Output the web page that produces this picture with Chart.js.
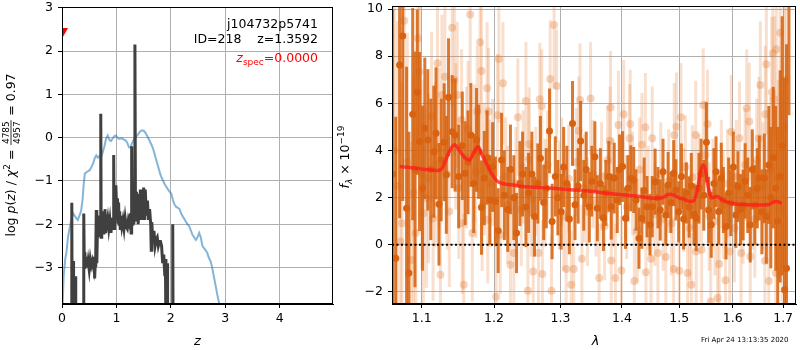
<!DOCTYPE html>
<html>
<head>
<meta charset="UTF-8">
<title>j104732p5741 redshift fit</title>
<script src="https://cdn.jsdelivr.net/npm/chart.js@4"></script>
<style>
  body { margin: 0; background: #fff; }
  #wrap { position: relative; width: 800px; height: 350px; }
  canvas { position: absolute; left: 0; top: 0; }
</style>
</head>
<body>
<div id="wrap">
  <canvas id="pz" width="800" height="350"></canvas>
  <canvas id="spec" width="800" height="350"></canvas>
</div>
<script>
// ---- left panel: log p(z) (dark) and the smooth curve (blue) ----
const pzZ = [
  0.00, 0.17, 0.18, 0.19, 0.205, 0.21, 0.215, 0.245, 0.25, 0.255,
  0.395, 0.40, 0.41, 0.42, 0.43, 0.44, 0.45, 0.46, 0.47, 0.48,
  0.50, 0.52, 0.54, 0.56, 0.58, 0.59, 0.60, 0.61, 0.62, 0.63,
  0.64, 0.65, 0.66, 0.67, 0.68, 0.69, 0.70, 0.71, 0.715, 0.72,
  0.73, 0.74, 0.75, 0.76, 0.77, 0.78, 0.79, 0.80, 0.82, 0.84,
  0.86, 0.88, 0.90, 0.92, 0.94, 0.95, 0.96, 0.97, 0.98, 0.99,
  1.00, 1.01, 1.02, 1.03, 1.04, 1.05, 1.06, 1.07, 1.08, 1.10,
  1.12, 1.14, 1.16, 1.18, 1.20, 1.22, 1.24, 1.26, 1.27, 1.28,
  1.29, 1.30, 1.32, 1.33, 1.34, 1.35, 1.36, 1.37, 1.38, 1.39,
  1.40, 1.42, 1.43, 1.44, 1.45, 1.46, 1.47, 1.48, 1.49, 1.50,
  1.51, 1.52, 1.53, 1.55, 1.57, 1.59, 1.61, 1.63, 1.64, 1.65,
  1.67, 1.69, 1.71, 1.73, 1.75, 1.77, 1.79, 1.81, 1.83, 1.85,
  1.87, 1.89, 1.90, 1.91, 1.93, 1.94, 2.025, 2.035, 2.045, 4.98
];
const pzLog = [
  -6, -6, -1.5, -6, -6, -2.85, -6, -6, -3.2, -6,
  -6, -1.75, -3.0, -2.65, -2.9, -2.75, -3.0, -2.8, -2.95, -2.85,
  -3.05, -2.8, -2.95, -2.85, -3.0, -2.75, -3.25, -2.95, -2.7, -1.67,
  -2.9, -2.2, -2.0, -2.25, -1.8, -2.3, -2.05, -1.9, 0.55, -2.3,
  -1.75, -2.15, -1.7, -2.2, -1.9, -2.05, -1.65, -2.2, -2.0, -1.85,
  -2.1, -1.9, -2.2, -1.85, -2.05, -0.4, -2.1, -1.2, -1.6, -1.1,
  -1.5, -1.9, -1.4, -1.95, -1.5, -2.0, -1.7, -2.1, -1.8, -2.05,
  -1.9, -2.1, -1.85, -2.05, -2.1, -1.9, -2.0, -1.75, -2.2, -0.2,
  -2.0, -1.8, -2.0, -1.5, 2.15, -1.6, -1.9, -1.25, -1.9, -1.4,
  -2.0, -1.3, -1.9, -1.2, -1.7, -1.3, -1.9, -1.2, -1.6, -1.15,
  -1.5, -1.9, -1.2, -1.8, -1.45, -1.9, -1.65, -2.0, -2.6, -1.95,
  -2.4, -2.15, -2.5, -2.35, -2.3, -2.5, -2.4, -2.4, -2.5, -2.9,
  -2.7, -3.2, -2.8, -4.5, -2.9, -6, -6, -2.0, -6, -6
];
const priorZ = [
  0.00, 0.03, 0.06, 0.08, 0.11, 0.14, 0.17, 0.20, 0.23, 0.26,
  0.29, 0.32, 0.35, 0.38, 0.40, 0.42, 0.45, 0.48, 0.51, 0.54,
  0.57, 0.60, 0.63, 0.66, 0.69, 0.72, 0.75, 0.78, 0.81, 0.84,
  0.87, 0.90, 0.93, 0.96, 0.99, 1.02, 1.05, 1.08, 1.11, 1.14,
  1.17, 1.20, 1.23, 1.26, 1.29, 1.32, 1.35, 1.38, 1.41, 1.44,
  1.47, 1.50, 1.53, 1.56, 1.59, 1.62, 1.65, 1.68, 1.71, 1.74,
  1.77, 1.80, 1.83, 1.86, 1.89, 1.92, 1.95, 1.98, 2.01, 2.04,
  2.07, 2.10, 2.13, 2.16, 2.19, 2.22, 2.25, 2.28, 2.31, 2.34,
  2.37, 2.40, 2.43, 2.46, 2.49, 2.52, 2.55, 2.58, 2.61, 2.64,
  2.67, 2.70, 2.73, 2.76, 2.79, 2.82, 2.85, 2.88, 2.91
];
const priorLog = [
  -4.3, -3.2, -2.8, -2.66, -2.3, -2.09, -1.9, -1.74, -1.8, -1.85,
  -1.9, -1.8, -1.7, -1.4, -1.05, -0.83, -0.8, -0.77, -0.75, -0.68,
  -0.6, -0.48, -0.41, -0.46, -0.42, -0.44, -0.33, -0.2, -0.02, 0.05,
  -0.05, -0.08, -0.02, 0.03, 0.05, 0.0, -0.03, -0.02, -0.02, -0.05,
  -0.06, -0.12, -0.22, -0.22, -0.12, -0.04, 0.0, 0.05, 0.1, 0.15,
  0.17, 0.16, 0.12, 0.05, -0.02, -0.1, -0.18, -0.28, -0.42, -0.55,
  -0.68, -0.82, -0.92, -1.0, -1.08, -1.14, -1.2, -1.25, -1.3, -1.45,
  -1.55, -1.6, -1.62, -1.65, -1.75, -1.82, -1.88, -1.95, -2.0, -2.05,
  -2.15, -2.25, -2.3, -2.36, -2.3, -2.2, -2.3, -2.5, -2.55, -2.6,
  -2.66, -2.78, -2.85, -3.0, -3.2, -3.4, -3.6, -3.78, -3.95
];
const zSpec = [0.0];
const zSpecMark = [2.45];
const zTicks = [0, 1, 2, 3, 4];
const pzTicks = [-3, -2, -1, 0, 1, 2, 3];

// ---- right panel: spectrum ----
const darkWave = [
  1.062, 1.066, 1.071, 1.075, 1.080, 1.083, 1.088, 1.091, 1.094, 1.097,
  1.101, 1.104, 1.108, 1.112, 1.116, 1.119, 1.123, 1.126, 1.130, 1.133,
  1.136, 1.141, 1.145, 1.150, 1.155, 1.159, 1.163, 1.167, 1.171, 1.175,
  1.178, 1.182, 1.186, 1.190, 1.194, 1.198,
  1.202, 1.206, 1.211, 1.215, 1.220, 1.224, 1.229, 1.233, 1.238, 1.242,
  1.247, 1.251, 1.256, 1.260, 1.265, 1.269, 1.274, 1.278, 1.283, 1.287,
  1.292, 1.296, 1.301, 1.305, 1.310, 1.314, 1.319, 1.323, 1.328, 1.332,
  1.337, 1.341, 1.346, 1.350,
  1.355, 1.359, 1.364, 1.369, 1.373, 1.378, 1.382, 1.387, 1.392, 1.396,
  1.401, 1.406, 1.410, 1.415, 1.420, 1.424, 1.429, 1.434, 1.438, 1.443,
  1.448, 1.452, 1.457, 1.462, 1.466, 1.471, 1.476, 1.480, 1.485, 1.490,
  1.494, 1.499, 1.504, 1.508, 1.513, 1.518, 1.522, 1.527,
  1.531, 1.536, 1.540, 1.545, 1.550, 1.554, 1.559, 1.564, 1.568, 1.573,
  1.578, 1.582, 1.587, 1.592, 1.596, 1.601, 1.606, 1.610, 1.615, 1.620,
  1.624, 1.629, 1.634, 1.638, 1.643, 1.648, 1.652, 1.657, 1.662, 1.666,
  1.671, 1.675, 1.680, 1.685, 1.689, 1.694, 1.698, 1.703, 1.707, 1.712
];
const darkFlux = [
  3.0, -0.57, 7.63, 8.86, 1.55, -1.2, 5.54, 3.2, 6.47, 4.38,
  2.4, 4.94, 4.45, 3.2, 3.95, 4.73, 1.72, 3.6, 4.35, 2.97,
  6.26, 4.8, 4.66, 2.9, 4.2, 3.04, 3.5, 4.66, 2.6, 4.45,
  3.95, 1.58, 2.83, 3.7, 1.9, 3.3,
  1.84, 0.6, 3.6, 2.1, 1.5, 3.2, 2.0, 0.5, 2.6, 3.0,
  1.6, 2.2, 3.0, 1.2, 2.6, 3.67, 1.8, 2.4, 4.83, 0.99,
  2.9, 2.0, 1.4, 3.3, 2.6, 1.1, 5.15, 1.7, 2.5, 4.4,
  2.1, 3.2, 1.6, 2.7,
  3.74, 1.55, 2.6, 1.14, 2.2, 2.9, 1.62, 2.83, 1.9, 3.18,
  3.32, 1.13, 2.4, 2.82, 2.75, 1.9, 0.28, 1.13, 2.3, 1.62,
  0.85, 1.62, 2.68, 2.0, 1.48, 3.1, 1.27, 2.54, 1.8, 3.04,
  2.33, 1.4, 2.9, 1.1, 2.2, 1.6, 2.5, 1.3,
  1.13, 2.4, 3.0, 2.1, 4.35, 1.48, 0.85, 2.6, 3.1, 1.41,
  2.83, 1.9, 0.78, 2.2, 1.77, 3.3, 1.27, 2.47, 1.5, 1.69,
  2.71, 2.1, 0.85, 3.2, 1.69, 2.4, 2.83, 1.4, 2.82, 1.2,
  3.39, 2.0, 3.7, 2.4, 1.0, 2.9, 4.2, -1.91, -0.99, 12
];
const darkErr = [
  7, 6, 6.5, 7, 6, 6, 4.5, 5, 3.5, 3.8,
  3.5, 3, 3, 3, 2.8, 2.8, 2.6, 2.6, 2.5, 2.5,
  2.5, 2.4, 2.4, 2.2, 2.3, 2.2, 2.2, 2.2, 2.1, 2.2,
  2.0, 2.0, 2.0, 2.0, 1.9, 1.9,
  1.9, 1.8, 2.0, 1.9, 1.8, 1.9, 1.8, 1.7, 1.8, 1.8,
  1.7, 1.7, 1.8, 1.7, 1.7, 1.8, 1.6, 1.7, 1.8, 1.6,
  1.7, 1.6, 1.6, 1.7, 1.6, 1.5, 1.8, 1.5, 1.6, 1.7,
  1.5, 1.6, 1.5, 1.5,
  1.5, 1.4, 1.5, 1.4, 1.4, 1.5, 1.4, 1.5, 1.4, 1.5,
  1.5, 1.3, 1.4, 1.4, 1.4, 1.3, 1.3, 1.3, 1.4, 1.3,
  1.3, 1.3, 1.4, 1.3, 1.3, 1.4, 1.3, 1.4, 1.3, 1.4,
  1.3, 1.3, 1.4, 1.3, 1.3, 1.3, 1.4, 1.3,
  1.4, 1.5, 1.5, 1.5, 1.7, 1.4, 1.4, 1.5, 1.5, 1.4,
  1.5, 1.4, 1.4, 1.5, 1.4, 1.5, 1.4, 1.5, 1.5, 1.5,
  1.6, 1.6, 1.6, 1.7, 1.7, 1.7, 1.8, 1.8, 1.9, 2.0,
  2.5, 3.0, 3.0, 3.5, 4.0, 4.5, 5.5, 9.0, 9.5, 6.5
];
const lightWave = [
  1.064, 1.068, 1.072, 1.074, 1.077, 1.081, 1.086, 1.089, 1.092, 1.095,
  1.097, 1.100, 1.102, 1.106, 1.109, 1.113, 1.115, 1.118, 1.121, 1.123,
  1.125, 1.127, 1.131, 1.134, 1.137, 1.141, 1.144, 1.146, 1.148, 1.150,
  1.154, 1.155, 1.157, 1.161, 1.163, 1.166, 1.169, 1.172, 1.174, 1.176,
  1.180, 1.182, 1.183, 1.186, 1.190, 1.191, 1.192, 1.194, 1.198, 1.203,
  1.205, 1.207, 1.209, 1.213, 1.217, 1.220, 1.224, 1.229, 1.232, 1.235,
  1.240, 1.243, 1.247, 1.250, 1.251, 1.252, 1.255, 1.258, 1.262, 1.266,
  1.268, 1.271, 1.272, 1.276, 1.280, 1.284, 1.286, 1.290, 1.294, 1.298,
  1.302, 1.305, 1.309, 1.313, 1.317, 1.321, 1.325, 1.329, 1.331, 1.334,
  1.338, 1.343, 1.348, 1.352, 1.357, 1.362, 1.366, 1.371, 1.376, 1.380,
  1.381, 1.382, 1.385, 1.389, 1.394, 1.399, 1.403, 1.408, 1.413, 1.414,
  1.418, 1.421, 1.426, 1.430, 1.434, 1.440, 1.441, 1.445, 1.450, 1.452,
  1.457, 1.462, 1.467, 1.471, 1.476, 1.481, 1.486, 1.490, 1.491, 1.495,
  1.500, 1.503, 1.508, 1.511, 1.515, 1.519, 1.522, 1.524, 1.530, 1.531,
  1.536, 1.541, 1.544, 1.548, 1.552, 1.555, 1.558, 1.562, 1.566, 1.571,
  1.574, 1.578, 1.582, 1.586, 1.590, 1.594, 1.597, 1.603, 1.607, 1.613,
  1.616, 1.620, 1.624, 1.627, 1.632, 1.634, 1.638, 1.643, 1.647, 1.651,
  1.654, 1.659, 1.663, 1.664, 1.666, 1.671, 1.674, 1.677, 1.679, 1.682,
  1.685, 1.686, 1.690, 1.694, 1.698, 1.702, 1.706
];
const lightFlux = [
  4.0, 2.5, 0.14, 0.92, 9.5, 3.5, -0.64, 2.2, 0.5, 8.76,
  7.34, 3.0, 1.34, 1.98, 2.82, 5.44, 1.13, 3.4, 7.7, 4.1,
  -1.27, 6.36, 7.13, 3.0, 1.41, 9.21, 6.99, 4.6, 6.36, 2.4,
  5.3, 0.92, -1.69, 3.7, 4.9, 9.77, 0.5, 3.9, 3.1, 5.65,
  8.59, 7.37, 1.69, 3.2, 6.64, 1.06, 5.65, 2.61, 3.5, -2.2,
  5.5, 7.88, 0.42, 6.85, 2.9, 1.7, -0.85, -0.35, 2.6, 5.41,
  1.5, 3.3, 6.1, -1.95, 3.6, 4.28, 1.9, -1.13, 2.7, -0.35,
  6.17, 5.89, -1.24, 2.2, 3.4, 7.03, -1.95, 9.32, 6.74, 2.1,
  3.1, 1.2, -1.03, 2.8, -1.69, -1.03, 3.5, 4.84, 6.14, -0.59,
  2.4, 1.4, 6.21, 3.0, 1.8, -1.41, 2.9, 0.8, 3.6, 4.41,
  5.82, -0.66, 2.2, -1.41, 5.08, -1.09, 5.54, 1.6, 4.52, 5.13,
  2.6, -1.53, 0.6, 3.2, 4.24, 4.99, -1.16, 2.0, -0.59, 4.52,
  1.3, -0.35, 3.0, 1.1, -0.52, 2.7, 0.9, -1.03, 4.66, 5.01,
  -1.1, 5.41, 1.9, 3.3, -1.2, 0.7, -1.69, 2.87, 4.66, -0.28,
  2.4, -0.21, 5.93, 3.8, 5.13, 1.2, -2.4, 2.2, 1.0, -2.26,
  -0.81, 3.0, 1.7, -1.5, 2.6, -0.28, 4.8, 0.71, 2.9, 4.52,
  -0.35, 1.6, 3.4, 5.79, 5.23, -0.49, 2.3, 1.1, 3.6, 4.52,
  6.78, 2.5, -0.68, 5.54, 7.66, -1.53, 3.2, 6.47, 8.12, 6.19,
  -1.2, 8.3, 2.8, 9.0, 1.5, 5.0, 7.0
];
const lightErr = [
  7, 7, 6, 6, 6, 5.5, 5, 5, 4.5, 4.5,
  4, 4, 3.8, 3.8, 3.6, 3.6, 3.5, 3.5, 3.5, 3.4,
  3.2, 3.4, 3.3, 3.2, 3.2, 3.3, 3.2, 3.1, 3.1, 3.0,
  3.0, 3.0, 3.0, 3.0, 2.9, 3.1, 2.9, 2.9, 2.8, 2.8,
  3.0, 2.9, 2.8, 2.8, 2.8, 2.7, 2.7, 2.7, 2.7, 2.6,
  2.6, 2.7, 2.5, 2.6, 2.5, 2.5, 2.4, 2.4, 2.4, 2.5,
  2.4, 2.4, 2.5, 2.4, 2.4, 2.4, 2.4, 2.3, 2.3, 2.3,
  2.4, 2.4, 2.3, 2.3, 2.3, 2.5, 2.3, 2.7, 2.4, 2.3,
  2.3, 2.3, 2.3, 2.3, 2.3, 2.3, 2.3, 2.3, 2.4, 2.3,
  2.3, 2.3, 2.4, 2.3, 2.3, 2.3, 2.3, 2.3, 2.3, 2.3,
  2.4, 2.3, 2.3, 2.3, 2.3, 2.3, 2.3, 2.2, 2.3, 2.3,
  2.2, 2.2, 2.2, 2.2, 2.2, 2.3, 2.2, 2.2, 2.2, 2.2,
  2.2, 2.2, 2.2, 2.2, 2.2, 2.2, 2.2, 2.2, 2.2, 2.3,
  2.2, 2.3, 2.2, 2.2, 2.2, 2.2, 2.2, 2.2, 2.3, 2.2,
  2.3, 2.3, 2.4, 2.3, 2.3, 2.3, 2.3, 2.3, 2.3, 2.3,
  2.3, 2.3, 2.3, 2.3, 2.3, 2.3, 2.4, 2.3, 2.4, 2.4,
  2.4, 2.4, 2.4, 2.5, 2.5, 2.5, 2.5, 2.5, 2.6, 2.6,
  2.7, 2.7, 2.8, 2.9, 3.0, 3.0, 3.1, 3.2, 3.4, 3.5,
  3.6, 3.8, 4.2, 4.6, 5.0, 6.0, 7.0
];
const modelWave = [
  1.071, 1.090, 1.110, 1.120, 1.126, 1.131, 1.137, 1.144, 1.150, 1.157,
  1.165, 1.171, 1.177, 1.183, 1.190, 1.197, 1.204, 1.212, 1.225, 1.241,
  1.260, 1.287, 1.310, 1.341, 1.370, 1.400, 1.430, 1.456, 1.470, 1.482,
  1.492, 1.500, 1.508, 1.518, 1.526, 1.533, 1.539, 1.543, 1.548, 1.553,
  1.560, 1.570, 1.580, 1.600, 1.630, 1.660, 1.672, 1.686, 1.697
];
const modelFlux = [
  3.32, 3.26, 3.18, 3.15, 3.2, 3.5, 3.95, 4.24, 4.05, 3.75,
  3.6, 3.9, 4.17, 3.8, 3.4, 3.0, 2.72, 2.6, 2.55, 2.47,
  2.44, 2.4, 2.35, 2.29, 2.2, 2.12, 2.05, 1.98, 2.0, 2.15,
  2.1, 1.98, 1.95, 1.85, 1.86, 2.3, 3.1, 3.39, 3.2, 2.5,
  1.99, 2.05, 1.9, 1.75, 1.7, 1.69, 1.72, 1.85, 1.75
];
const waveTicks = [1.1, 1.2, 1.3, 1.4, 1.5, 1.6, 1.7];
const fluxTicks = [-2, 0, 2, 4, 6, 8, 10];

// ---- helpers ----
const FONT = '"DejaVu Sans"';
Chart.defaults.font.family = FONT;
Chart.defaults.font.size = 12.5;
Chart.defaults.color = '#000';

const xy = (xs, ys) => xs.map((x, i) => ({ x: x, y: ys[i] }));
const F = (size, style) => (style ? style + ' ' : '') + size + 'px ' + FONT;
const minus = v => (v < 0 ? '\u2212' + Math.abs(v) : String(v));

// fix axis box sizes so the plot areas land where the reference has them
const fixBox = (w, h) => s => {
  if (w) s.width = w;
  if (h) s.height = h;
  s.paddingTop = s.paddingBottom = s.paddingLeft = s.paddingRight = 0;
};
const setTicks = vals => s => { s.ticks = vals.map(v => ({ value: v })); };

const gridOpts = { color: '#b0b0b0', lineWidth: 1, tickLength: 4, tickColor: '#000' };
const borderOpts = { color: '#000', width: 1 };

function drawRun(ctx, parts, x, y, align) {
  let total = 0;
  parts.forEach(p => {
    ctx.font = p.font;
    p.w = p.frac
      ? Math.max(ctx.measureText(p.frac[0]).width, ctx.measureText(p.frac[1]).width) + 3
      : ctx.measureText(p.t).width;
    total += p.w;
  });
  let cx = align === 'right' ? x - total : align === 'center' ? x - total / 2 : x;
  parts.forEach(p => {
    ctx.font = p.font;
    ctx.fillStyle = p.color || '#000';
    if (p.frac) {
      ctx.textAlign = 'center';
      ctx.fillText(p.frac[0], cx + p.w / 2, y - 6);
      ctx.fillText(p.frac[1], cx + p.w / 2, y + 4.5);
      ctx.textAlign = 'left';
      ctx.fillRect(cx + 0.5, y - 4.4, p.w - 1, 0.8);
    } else {
      ctx.fillText(p.t, cx, y + (p.dy || 0));
    }
    cx += p.w;
  });
}

const frame = {
  id: 'frame',
  afterDraw(chart) {
    const { ctx, chartArea: a } = chart;
    ctx.save();
    ctx.strokeStyle = '#000';
    ctx.lineWidth = 1;
    ctx.strokeRect(Math.round(a.left) + 0.5, Math.round(a.top) + 0.5,
      Math.round(a.right - a.left) - 1, Math.round(a.bottom - a.top) - 1);
    ctx.restore();
  }
};

// vertical error bars under each dataset that has an `errors` array
const errorBars = {
  id: 'errorBars',
  beforeDatasetDraw(chart, args) {
    const ds = chart.data.datasets[args.index];
    if (!ds.errors) return;
    const { ctx, chartArea: a, scales } = chart;
    ctx.save();
    ctx.beginPath();
    ctx.rect(a.left, a.top, a.right - a.left, a.bottom - a.top);
    ctx.clip();
    ctx.strokeStyle = ds.errorColor;
    ctx.lineWidth = ds.errorWidth;
    ctx.lineCap = 'butt';
    ds.data.forEach((p, i) => {
      const px = scales.x.getPixelForValue(p.x);
      ctx.beginPath();
      ctx.moveTo(px, scales.y.getPixelForValue(p.y - ds.errors[i]));
      ctx.lineTo(px, scales.y.getPixelForValue(p.y + ds.errors[i]));
      ctx.stroke();
    });
    ctx.restore();
  }
};

const pzText = {
  id: 'pzText',
  afterDraw(chart) {
    const ctx = chart.ctx;
    ctx.save();
    ctx.textAlign = 'left';
    ctx.textBaseline = 'alphabetic';
    drawRun(ctx, [{ t: 'j104732p5741', font: F(12.5) }], 318, 27.5, 'right');
    drawRun(ctx, [{ t: 'ID=218    z=1.3592', font: F(12.5) }], 318, 42.5, 'right');
    drawRun(ctx, [
      { t: 'z', font: F(12.5, 'italic'), color: '#ff0000' },
      { t: 'spec', font: F(9), dy: 3, color: '#ff0000' },
      { t: '=0.0000', font: F(12.5), color: '#ff0000' }
    ], 318, 62, 'right');
    drawRun(ctx, [{ t: 'z', font: F(13, 'italic') }], 197.5, 345, 'center');
    ctx.translate(15, 155);
    ctx.rotate(-Math.PI / 2);
    drawRun(ctx, [
      { t: 'log ', font: F(12.5) },
      { t: 'p', font: F(12.5, 'italic') },
      { t: '(', font: F(12.5) },
      { t: 'z', font: F(12.5, 'italic') },
      { t: ') / ', font: F(12.5) },
      { t: '\u03c7', font: F(12.5, 'italic') },
      { t: '2', font: F(9), dy: -5 },
      { t: ' = ', font: F(12.5) },
      { frac: ['4785', '4957'], font: F(9) },
      { t: ' = 0.97', font: F(12.5) }
    ], 0, 0, 'center');
    ctx.restore();
  }
};

const specText = {
  id: 'specText',
  afterDraw(chart) {
    const ctx = chart.ctx;
    ctx.save();
    ctx.textAlign = 'left';
    ctx.textBaseline = 'alphabetic';
    drawRun(ctx, [{ t: '\u03bb', font: F(13, 'italic') }], 595.5, 345, 'center');
    drawRun(ctx, [{ t: 'Fri Apr 24 13:13:35 2020', font: F(7) }], 701, 342, 'left');
    ctx.translate(349, 157);
    ctx.rotate(-Math.PI / 2);
    drawRun(ctx, [
      { t: 'f', font: F(12.5, 'italic') },
      { t: '\u03bb', font: F(9, 'italic'), dy: 3 },
      { t: ' \u00d7 10', font: F(12.5) },
      { t: '\u221219', font: F(9), dy: -5 }
    ], 0, 0, 'center');
    ctx.restore();
  }
};

// ---- left chart ----
new Chart(document.getElementById('pz'), {
  type: 'scatter',
  data: {
    datasets: [
      {
        data: xy(zSpec, zSpecMark), pointStyle: 'triangle', rotation: 180,
        pointRadius: 7, backgroundColor: '#ff0000', borderColor: '#ff0000',
        borderWidth: 0, clip: 0
      },
      {
        data: xy(pzZ, pzLog), showLine: true, borderColor: '#404040',
        borderWidth: 3, pointRadius: 0, clip: 0
      },
      {
        data: xy(priorZ, priorLog), showLine: true, borderColor: 'rgba(31,119,180,0.55)',
        borderWidth: 2, pointRadius: 0, clip: 0
      }
    ]
  },
  options: {
    responsive: false, animation: false, events: [],
    layout: { padding: { left: 0, top: 6, right: 467, bottom: 0 } },
    plugins: { legend: { display: false }, tooltip: { enabled: false } },
    scales: {
      x: {
        type: 'linear', min: 0, max: 4.98,
        afterBuildTicks: setTicks(zTicks), afterFit: fixBox(0, 46),
        ticks: { padding: 3, maxRotation: 0, autoSkip: false, callback: minus },
        grid: gridOpts, border: borderOpts
      },
      y: {
        type: 'linear', min: -3.84, max: 3.016,
        afterBuildTicks: setTicks(pzTicks), afterFit: fixBox(62, 0),
        ticks: { padding: 5, autoSkip: false, callback: minus },
        grid: gridOpts, border: borderOpts
      }
    }
  },
  plugins: [frame, pzText]
});

// ---- right chart ----
new Chart(document.getElementById('spec'), {
  type: 'scatter',
  data: {
    datasets: [
      {
        data: xy(modelWave, modelFlux), showLine: true, borderColor: 'rgba(255,25,25,0.75)',
        borderWidth: 3.5, pointRadius: 0, cubicInterpolationMode: 'monotone', clip: 0
      },
      {
        data: [{ x: 1.0612, y: 0 }, { x: 1.7266, y: 0 }], showLine: true,
        borderColor: '#000', borderWidth: 2, borderDash: [2, 2.5], pointRadius: 0, clip: 0
      },
      {
        data: xy(darkWave, darkFlux), errors: darkErr,
        errorColor: 'rgba(214,96,10,0.85)', errorWidth: 3,
        pointRadius: 3.5, backgroundColor: '#d8620f', borderWidth: 0, clip: 0
      },
      {
        data: xy(lightWave, lightFlux), errors: lightErr,
        errorColor: 'rgba(230,130,60,0.26)', errorWidth: 3,
        pointRadius: 4, backgroundColor: 'rgba(225,120,50,0.32)', borderWidth: 0, clip: 0
      }
    ]
  },
  options: {
    responsive: false, animation: false, events: [],
    layout: { padding: { left: 340, top: 6, right: 1, bottom: 0 } },
    plugins: { legend: { display: false }, tooltip: { enabled: false } },
    scales: {
      x: {
        type: 'logarithmic', min: 1.0612, max: 1.7266,
        afterBuildTicks: setTicks(waveTicks), afterFit: fixBox(0, 46),
        ticks: { padding: 3, maxRotation: 0, autoSkip: false, callback: v => Number(v).toFixed(1) },
        grid: gridOpts, border: borderOpts
      },
      y: {
        type: 'linear', min: -2.51, max: 10.13,
        afterBuildTicks: setTicks(fluxTicks), afterFit: fixBox(52, 0),
        ticks: { padding: 5, autoSkip: false, callback: minus },
        grid: gridOpts, border: borderOpts
      }
    }
  },
  plugins: [errorBars, frame, specText]
});
</script>
</body>
</html>
